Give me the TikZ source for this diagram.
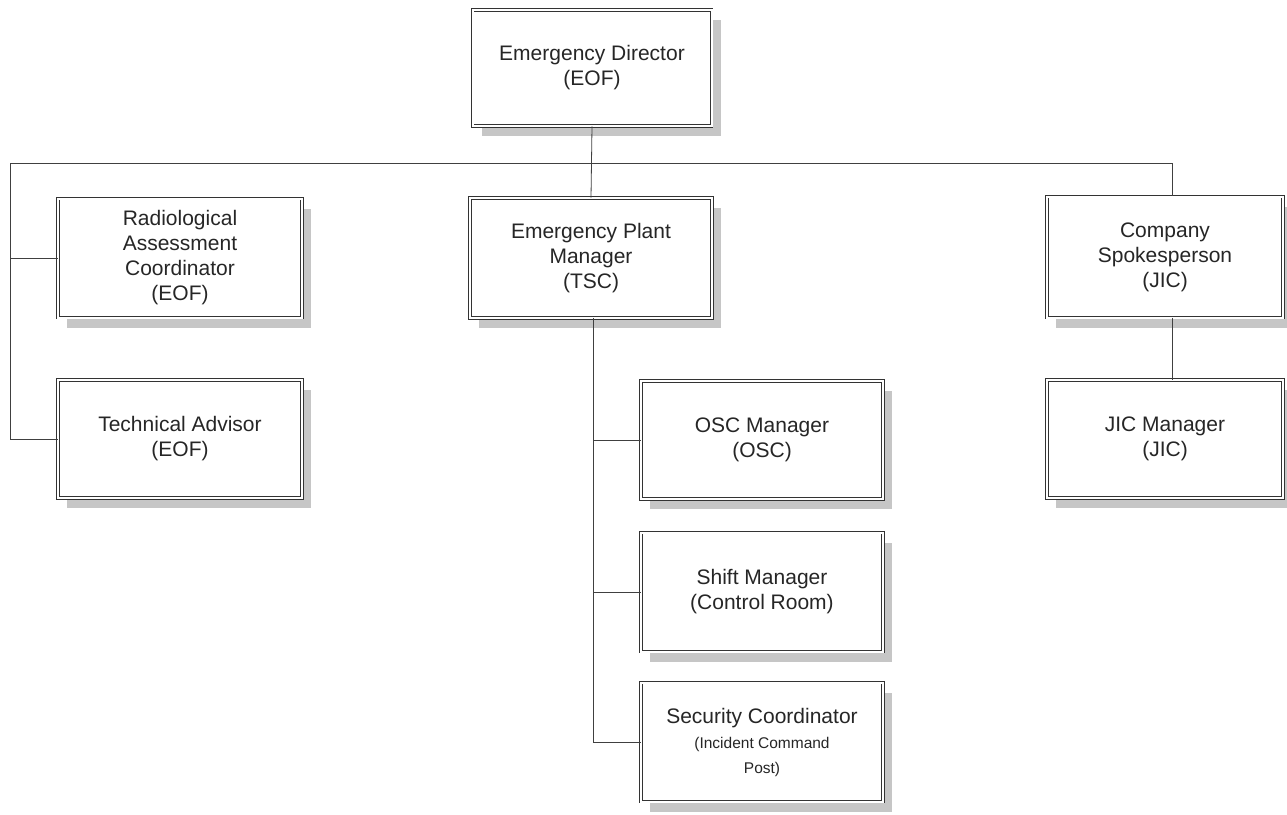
\documentclass[tikz,border=0pt]{standalone}
\usepackage{fontspec}
\setmainfont{Liberation Sans}
\usetikzlibrary{shadows}
\newcommand\smalltxt{\fontsize{15.5}{19}\selectfont}
\begin{document}
\begin{tikzpicture}[x=1pt,y=-1pt,
  orgbox/.style={draw=black!80, double=white, double distance=2pt, line width=0.6pt,
    fill=white, align=center, text=black!85, inner sep=0pt,
    font=\fontsize{21}{25}\selectfont,
    drop shadow={shadow xshift=9pt, shadow yshift=-10pt, fill=gray!45, opacity=1, draw=none}},
  link/.style={draw=black!75, line width=0.8pt}]
\useasboundingbox (0,0) rectangle (1287,814);

% boxes
\node[orgbox, minimum width=239pt, minimum height=116pt] (ed) at (592,68) {Emergency Director\\(EOF)};
\node[orgbox, minimum width=244pt, minimum height=119pt] (rac) at (180,258) {Radiological\\Assessment\\Coordinator\\(EOF)};
\node[orgbox, minimum width=244pt, minimum height=118pt] (ta) at (180,439) {Technical Advisor\\(EOF)};
\node[orgbox, minimum width=242pt, minimum height=120pt] (epm) at (591,258) {Emergency Plant\\Manager\\(TSC)};
\node[orgbox, minimum width=242pt, minimum height=118pt] (osc) at (762,440) {OSC Manager\\(OSC)};
\node[orgbox, minimum width=242pt, minimum height=119pt] (sm) at (762,592) {Shift Manager\\(Control Room)};
\node[orgbox, minimum width=242pt, minimum height=119pt] (sc) at (762,742) {Security Coordinator\\\smalltxt(Incident Command\\\smalltxt Post)};
\node[orgbox, minimum width=236pt, minimum height=121pt] (cs) at (1165,257) {Company\\Spokesperson\\(JIC)};
\node[orgbox, minimum width=236pt, minimum height=118pt] (jic) at (1165,439) {JIC Manager\\(JIC)};

% bus and branch points
\coordinate (busL) at (10,163);
\coordinate (busR) at (1172,163);
\coordinate (leftEnd) at (10,439);
\coordinate (tscEnd) at (593,742);

% connectors
\draw[link] (ed.south) -- (epm.north);
\draw[link] (busL) -- (busR) -- (busR |- cs.north);
\draw[link] (busL) -- (leftEnd) -- (ta.west);
\draw[link] (busL |- rac.west) -- (rac.west);
\draw[link] (epm.south -| tscEnd) -- (tscEnd) -- (sc.west);
\draw[link] (tscEnd |- osc.west) -- (osc.west);
\draw[link] (tscEnd |- sm.west) -- (sm.west);
\draw[link] (busR |- cs.south) -- (busR |- jic.north);
\end{tikzpicture}
\end{document}
